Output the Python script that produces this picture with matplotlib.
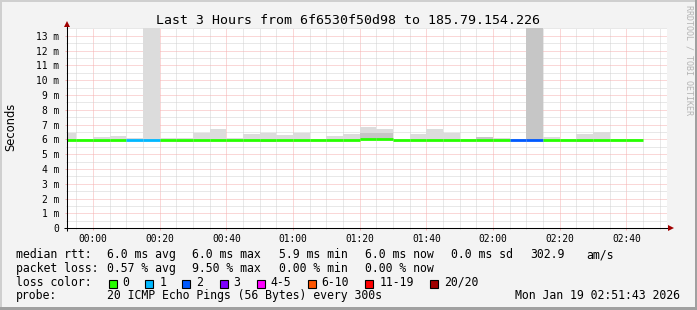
import matplotlib
matplotlib.use("Agg")
import matplotlib.pyplot as plt
from matplotlib.patches import Rectangle
import numpy as np

plt.rcParams['font.family'] = ['DejaVu Sans Mono']

W, H = 697, 310

# ---------------- data (5-minute intervals, minutes relative to 00:00) ----------------
interval_start = [-10, -5, 0, 5, 10, 15, 20, 25, 30, 35, 40, 45, 50, 55, 60, 65, 70,
                  75, 80, 85, 90, 95, 100, 105, 110, 115, 120, 125, 130, 135, 140,
                  145, 150, 155, 160]
smoke_hi = [6.43, 6.05, 6.14, 6.21, 6.12, 14.0, 6.10, 6.10, 6.46, 6.73, 6.10, 6.35,
            6.43, 6.28, 6.43, 6.05, 6.21, 6.35, 6.84, 6.68, 6.02, 6.35, 6.70, 6.43,
            6.05, 6.14, 6.07, 6.02, 14.0, 6.14, 6.03, 6.35, 6.48, 6.03, 6.03]
smoke_lo = [5.93, 5.92, 5.83, 5.92, 5.95, 5.95, 5.95, 5.83, 5.95, 5.95, 5.95, 5.92,
            5.80, 5.95, 5.95, 5.95, 5.95, 5.95, 5.95, 5.95, 5.95, 5.95, 5.95, 5.95,
            5.95, 5.95, 5.95, 5.95, 5.95, 5.95, 5.95, 5.82, 5.92, 5.95, 5.95]
core_hi = [5.98, 5.97, 5.95, 5.98, 5.98, 5.98, 5.99, 5.97, 5.98, 5.99, 5.98, 5.98,
           5.97, 5.98, 5.99, 5.98, 5.98, 5.99, 6.45, 6.40, 5.98, 5.98, 5.99, 5.98,
           5.98, 6.14, 6.05, 5.97, 14.0, 5.98, 5.98, 5.98, 5.98, 5.98, 5.98]
median = [5.98, 5.97, 5.95, 5.98, 5.98, 5.98, 5.99, 5.97, 5.98, 5.99, 5.98, 5.98,
          5.97, 5.98, 5.99, 5.98, 5.98, 5.99, 6.06, 6.06, 5.98, 5.98, 5.99, 5.98,
          5.98, 5.99, 5.98, 5.97, 5.97, 5.98, 5.98, 5.98, 5.98, 5.98, 5.98]
loss = [0, 0, 0, 0, 1, 1, 0, 0, 0, 0, 0, 0, 0, 0, 0, 0, 0, 0, 0, 0, 0, 0, 0, 0,
        0, 0, 0, 2, 2, 0, 0, 0, 0, 0, 0]

loss_labels = ['0', '1', '2', '3', '4-5', '6-10', '11-19', '20/20']
loss_colors = ['#26ff00', '#00b8ff', '#0059ff', '#7e00ff', '#ff00ff', '#ff5500',
               '#ff0000', '#a00000']

tick_minutes = [0, 20, 40, 60, 80, 100, 120, 140, 160]
tick_labels = ['00:00', '00:20', '00:40', '01:00', '01:20', '01:40', '02:00',
               '02:20', '02:40']
y_ticks = list(range(0, 14))
y_labels = ['0'] + ['%d m' % i for i in range(1, 14)]

title = 'Last 3 Hours from 6f6530f50d98 to 185.79.154.226'
legend_rtt = ['6.0 ms avg', '6.0 ms max', '5.9 ms min', '6.0 ms now', '0.0 ms sd',
              '302.9', 'am/s']
legend_loss = ['0.57 % avg', '9.50 % max', '0.00 % min', '0.00 % now']
probe_text = '20 ICMP Echo Pings (56 Bytes) every 300s'
date_text = 'Mon Jan 19 02:51:43 2026'


def loss_color(n):
    if n <= 3:
        return loss_colors[n]
    if n <= 5:
        return loss_colors[4]
    if n <= 10:
        return loss_colors[5]
    if n < 20:
        return loss_colors[6]
    return loss_colors[7]


# ---------------- figure ----------------
fig = plt.figure(figsize=(W / 100, H / 100), dpi=100)
fig.patch.set_facecolor('#f3f3f3')

px_l, px_r, px_t, px_b = 67, 667, 28.3, 228.3
ax = fig.add_axes([px_l / W, 1 - px_b / H, (px_r - px_l) / W, (px_b - px_t) / H])
ax.set_facecolor('white')
ax.set_xlim(-7.8, 172.2)
ax.set_ylim(0, 13.5)
for s in ax.spines.values():
    s.set_visible(False)

starts = np.array(interval_start, dtype=float)
hi = np.array(smoke_hi)
lo = np.array(smoke_lo)
core = np.array(core_hi)

ax.bar(starts, hi - lo, bottom=lo, width=5, align='edge', color='#dcdcdc',
       linewidth=0, zorder=2)
ax.bar(starts, core - lo, bottom=lo, width=5, align='edge', color='#c6c6c6',
       linewidth=0, zorder=2.1)
ax.hlines(median, starts, starts + 5, colors=[loss_color(n) for n in loss],
          linewidth=2.0, zorder=3, capstyle='butt')

# grid
ax.set_xticks(tick_minutes)
ax.set_xticklabels(tick_labels)
ax.set_xticks(np.arange(-5, 172, 5), minor=True)
ax.set_yticks(y_ticks)
ax.set_yticklabels(y_labels)
ax.set_yticks(np.arange(0.5, 13.6, 0.5), minor=True)
ax.set_axisbelow(True)
ax.grid(which='major', color='#f6b0b0', linestyle=(0, (1, 1)), linewidth=0.72)
ax.grid(which='minor', color='#d2d2d2', linestyle=(0, (1, 1)), linewidth=0.72)
ax.tick_params(which='major', length=1.5, width=0.72, color='#f6b0b0',
               labelsize=6.9, labelcolor='#000000')
ax.tick_params(axis='y', which='major', pad=3.9)
ax.tick_params(axis='x', which='major', pad=2.4)
ax.tick_params(which='minor', length=0.8, width=0.72, color='#d2d2d2')

# axes lines with arrows
ax.plot([-0.005, 1.0017], [0, 0], transform=ax.transAxes, color='black', lw=0.75,
        clip_on=False, zorder=5, solid_capstyle='butt')
ax.plot([1.0063], [0], marker='>', color='#a00000', ms=4.2, transform=ax.transAxes,
        clip_on=False, zorder=6, markeredgewidth=0)
ax.plot([0, 0], [-0.0135, 1.012], transform=ax.transAxes, color='black', lw=0.75,
        clip_on=False, zorder=5, solid_capstyle='butt')
ax.plot([0], [1.0215], marker='^', color='#a00000', ms=4.2, transform=ax.transAxes,
        clip_on=False, zorder=6, markeredgewidth=0)


def fx(x):
    return x / W


def fy(y):
    return 1 - y / H


# title and labels
fig.text(fx(348), fy(24), title, ha='center', va='baseline', fontsize=9.5)
fig.text(fx(10.5), fy(127), 'Seconds', rotation=90, ha='center', va='center',
         fontsize=8.3, family='DejaVu Sans')
fig.text(fx(688.5), fy(60), 'RRDTOOL / TOBI OETIKER', rotation=270, ha='center',
         va='center', fontsize=6.0, color='#b4b4b4')

# legend
fs = 8.3
b1, b2, b3, b4 = 258.3, 272.0, 285.7, 299.3
fig.text(fx(16), fy(b1), 'median rtt:', fontsize=fs, va='baseline')
for txt, x in zip(legend_rtt, [107.1, 192.5, 279.2, 365.4, 451.2, 530.3, 585.9]):
    fig.text(fx(x), fy(b1), txt, fontsize=fs, va='baseline')
fig.text(fx(16), fy(b2), 'packet loss:', fontsize=fs, va='baseline')
for txt, x in zip(legend_loss, [107.1, 192.5, 279.2, 365.4]):
    fig.text(fx(x), fy(b2), txt, fontsize=fs, va='baseline')
fig.text(fx(16), fy(b3), 'loss color:', fontsize=fs, va='baseline')
for lab, col, x in zip(loss_labels, loss_colors,
                       [108.5, 145.4, 182.3, 219.6, 256.5, 307.6, 365.4, 430.3]):
    fig.patches.append(Rectangle((fx(x), fy(288.4)), 8 / W, 8 / H, facecolor=col,
                                 edgecolor='black', linewidth=0.8,
                                 transform=fig.transFigure, figure=fig))
    fig.text(fx(x + 14), fy(b3), lab, fontsize=fs, va='baseline')
fig.text(fx(16), fy(b4), 'probe:', fontsize=fs, va='baseline')
fig.text(fx(107.1), fy(b4), probe_text, fontsize=fs, va='baseline')
fig.text(fx(680), fy(b4), date_text, fontsize=fs, va='baseline', ha='right')

# outer frame
for (x0, y0, w, h, c) in [(0, 0, W, 2, '#cfcfcf'), (0, 0, 2, H, '#cfcfcf'),
                          (0, H - 3, W, 3, '#a0a0a0'), (W - 2, 0, 2, H, '#a0a0a0')]:
    fig.patches.append(Rectangle((fx(x0), fy(y0 + h)), w / W, h / H, facecolor=c,
                                 edgecolor='none', transform=fig.transFigure,
                                 figure=fig))

fig.savefig('out.png', dpi=100, facecolor=fig.get_facecolor())
